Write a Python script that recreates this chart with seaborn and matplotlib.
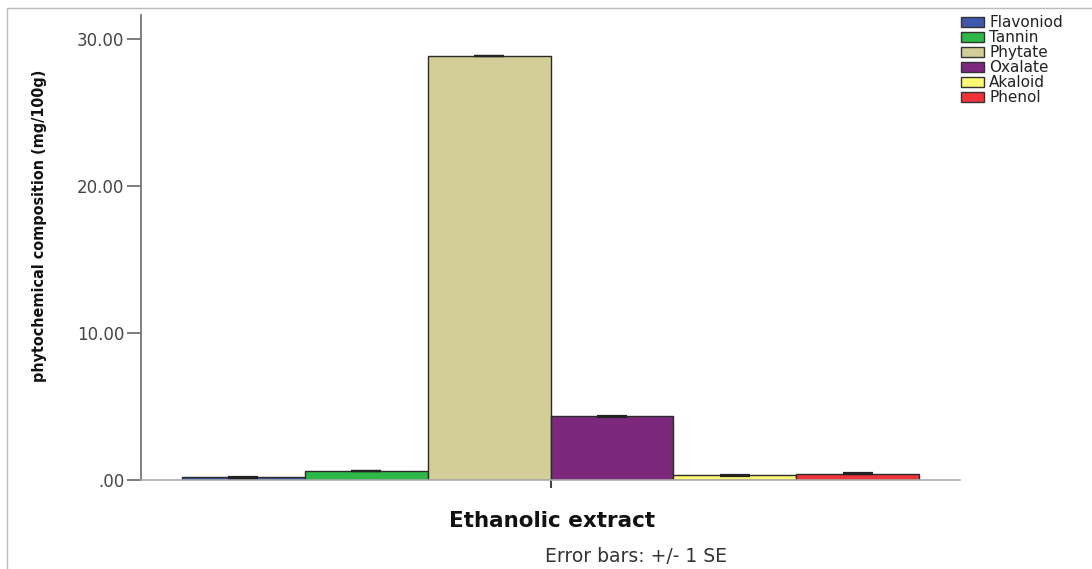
import matplotlib
matplotlib.use("Agg")
import matplotlib.pyplot as plt
from matplotlib.patches import Rectangle
from matplotlib.ticker import FuncFormatter
import seaborn as sns
import pandas as pd

# ---- data ----
group = "Ethanolic extract"
compounds = ["Flavoniod", "Tannin", "Phytate", "Oxalate", "Akaloid", "Phenol"]
means = [0.18, 0.60, 28.85, 4.32, 0.31, 0.43]
se = [0.01, 0.02, 0.02, 0.01, 0.02, 0.02]
colors = ["#3E58AC", "#2EB848", "#D3CE97", "#7C287D", "#FBF873", "#EF3338"]
yticks = [0, 10, 20, 30]

df = pd.DataFrame({"group": [group] * len(compounds), "compound": compounds, "value": means})

sns.set_theme(style="white")
plt.rcParams["font.family"] = ["DejaVu Sans"]

W, H = 1092, 569
fig = plt.figure(figsize=(W / 100, H / 100), dpi=100)
fig.patch.set_facecolor("white")
ax = fig.add_axes([141 / W, 1 - 480 / H, (960 - 141) / W, (480 - 15) / H])

sns.barplot(data=df, x="group", y="value", hue="compound", hue_order=compounds,
            palette=colors, width=0.9, errorbar=None, edgecolor="#2a2a2a",
            linewidth=1.0, saturation=1, ax=ax)

# error bars
for cont, s in zip(ax.containers, se):
    for p in cont.patches:
        xc = p.get_x() + p.get_width() / 2
        ax.errorbar(xc, p.get_height(), yerr=s, fmt="none", ecolor="#222222",
                    elinewidth=1.0, capsize=11, capthick=1.6, zorder=5)

ax.set_xlim(-0.5, 0.5)
ax.set_ylim(0, (480 - 15) / 14.7)
ax.set_yticks(yticks)
ax.yaxis.set_major_formatter(FuncFormatter(lambda v, p: ("%.2f" % v).lstrip("0") if v == 0 else "%.2f" % v))
ax.set_xticks([0])
ax.set_xticklabels([""])
ax.tick_params(axis="y", which="major", left=True, length=10, width=1.2, color="#666666",
               labelsize=12, labelcolor="#444444", pad=2)
ax.tick_params(axis="x", which="major", bottom=True, length=6, width=1.5, color="#444444")

for side in ["top", "right"]:
    ax.spines[side].set_visible(False)
ax.spines["left"].set_color("#777777")
ax.spines["left"].set_linewidth(1.3)
ax.spines["bottom"].set_color("#aaaaaa")
ax.spines["bottom"].set_linewidth(1.2)

ax.set_xlabel("")
ax.set_ylabel("")

fig.text(40 / W, 1 - 226 / H, "phytochemical composition (mg/100g)", rotation=90,
         ha="center", va="center", fontsize=11.5, fontweight="bold", fontstretch="condensed",
         family=["DejaVu Sans"], color="#111111")
fig.text(552 / W, 1 - 521 / H, "Ethanolic extract", ha="center", va="center",
         fontsize=15.5, fontweight="bold", color="#111111")
fig.text(636 / W, 1 - 557 / H, "Error bars: +/- 1 SE", ha="center", va="center",
         fontsize=13.5, color="#333333")

# legend
leg = ax.get_legend()
handles = leg.legend_handles
leg.remove()
leg = fig.legend(handles, compounds, loc="upper left",
                 bbox_to_anchor=(961 / W, 1 - 15 / H), bbox_transform=fig.transFigure,
                 frameon=False, fontsize=11, handlelength=1.5, handleheight=0.65,
                 labelspacing=0.0, handletextpad=0.35, borderpad=0, borderaxespad=0)
for h in leg.legend_handles:
    h.set_edgecolor("#333333")
    h.set_linewidth(1.0)
for t in leg.get_texts():
    t.set_color("#222222")

# outer frame
fig.add_artist(Rectangle((7 / W, -0.05), 1.2, 1 - 8 / H + 0.05, transform=fig.transFigure,
                         fill=False, edgecolor="#bbbbbb", linewidth=1.0))

fig.savefig("out.png", dpi=100)
